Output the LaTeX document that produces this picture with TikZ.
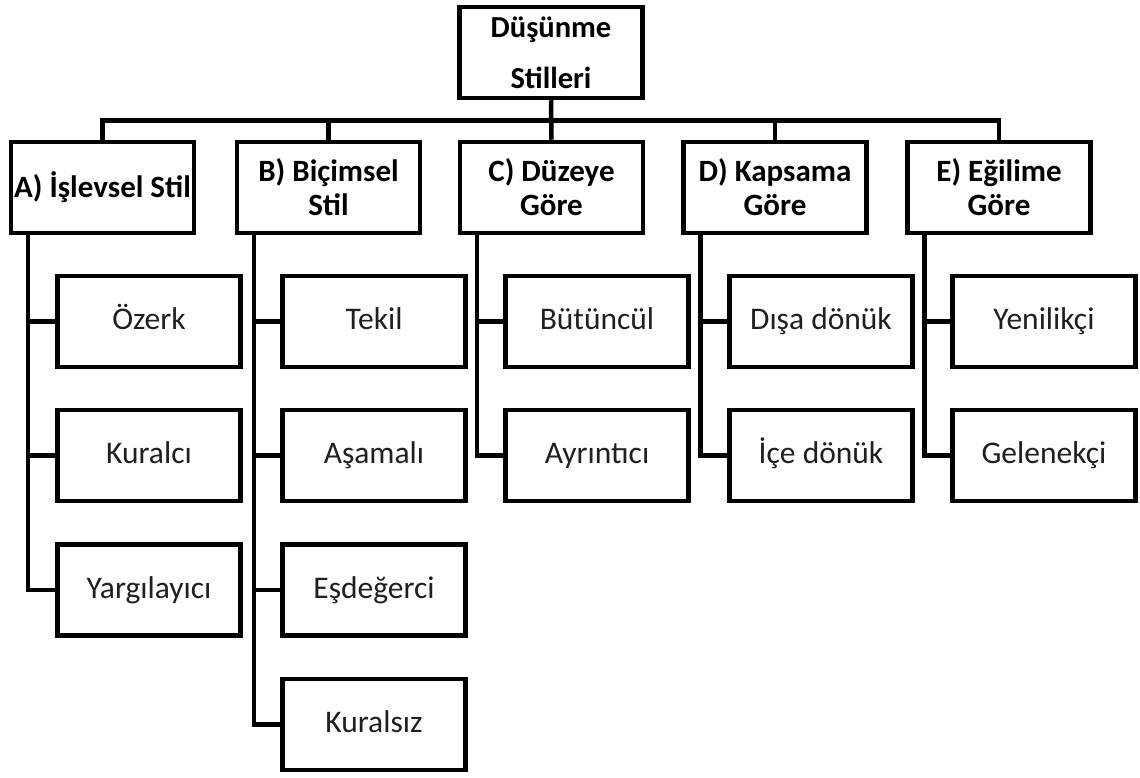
\documentclass[tikz,border=0pt]{standalone}
\usepackage{fontspec}
\setmainfont{Carlito}
\begin{document}
\begin{tikzpicture}[x=1pt,y=-1pt,
  box/.style={draw=black,line width=4.5pt,fill=white,inner sep=0pt,align=center,
    minimum width=183pt,minimum height=91pt},
  topbox/.style={box,font=\bfseries\fontsize{30.5}{51}\selectfont},
  catbox/.style={box,font=\bfseries\fontsize{31}{34}\selectfont},
  leafbox/.style={box,font=\fontsize{31.5}{34}\selectfont,text=black!88,
    text height=21pt,text depth=5pt},
  conn/.style={draw=black,line width=4.5pt}]
\useasboundingbox (0,0) rectangle (1140,778);
\fill[white] (0,0) rectangle (1140,778);

\node[topbox] (root) at (551,52.5) {Düşünme\\Stilleri};

\node[catbox] (A) at (102.5,187.5) {A) İşlevsel Stil};
\node[catbox] (B) at (328.5,187.5) {B) Biçimsel\\Stil};
\node[catbox] (C) at (551.5,187.5) {C) Düzeye\\Göre};
\node[catbox] (D) at (775,187.5) {D) Kapsama\\Göre};
\node[catbox] (E) at (999,187.5) {E) Eğilime\\Göre};

\node[leafbox] (A1) at (149,321.5) {Özerk};
\node[leafbox] (A2) at (149,455.5) {Kuralcı};
\node[leafbox] (A3) at (149,590) {Yargılayıcı};

\node[leafbox] (B1) at (374,321.5) {Tekil};
\node[leafbox] (B2) at (374,455.5) {Aşamalı};
\node[leafbox] (B3) at (374,590) {Eşdeğerci};
\node[leafbox] (B4) at (374,724.5) {Kuralsız};

\node[leafbox] (C1) at (597,321.5) {Bütüncül};
\node[leafbox] (C2) at (597,455.5) {Ayrıntıcı};

\node[leafbox] (D1) at (821,321.5) {Dışa dönük};
\node[leafbox] (D2) at (821,455.5) {İçe dönük};

\node[leafbox] (E1) at (1044,321.5) {Yenilikçi};
\node[leafbox] (E2) at (1044,455.5) {Gelenekçi};

\coordinate (bus) at (0,120.5);

% bus and stems
\draw[conn] (root.south) -- (C.north);
\draw[conn,line cap=rect] (A.north |- bus) -- (E.north |- bus);
\draw[conn] (A.north |- bus) -- (A.north);
\draw[conn] (B.north |- bus) -- (B.north);
\draw[conn] (D.north |- bus) -- (D.north);
\draw[conn] (E.north |- bus) -- (E.north);

% trunks
\coordinate (At) at ([xshift=19pt]A.south west);
\coordinate (Bt) at ([xshift=19pt]B.south west);
\coordinate (Ct) at ([xshift=19pt]C.south west);
\coordinate (Dt) at ([xshift=19pt]D.south west);
\coordinate (Et) at ([xshift=19pt]E.south west);

\draw[conn] (At) |- (A3.west);
\draw[conn] (At |- A1.west) -- (A1.west);
\draw[conn] (At |- A2.west) -- (A2.west);

\draw[conn] (Bt) |- (B4.west);
\draw[conn] (Bt |- B1.west) -- (B1.west);
\draw[conn] (Bt |- B2.west) -- (B2.west);
\draw[conn] (Bt |- B3.west) -- (B3.west);

\draw[conn] (Ct) |- (C2.west);
\draw[conn] (Ct |- C1.west) -- (C1.west);

\draw[conn] (Dt) |- (D2.west);
\draw[conn] (Dt |- D1.west) -- (D1.west);

\draw[conn] (Et) |- (E2.west);
\draw[conn] (Et |- E1.west) -- (E1.west);
\end{tikzpicture}
\end{document}
